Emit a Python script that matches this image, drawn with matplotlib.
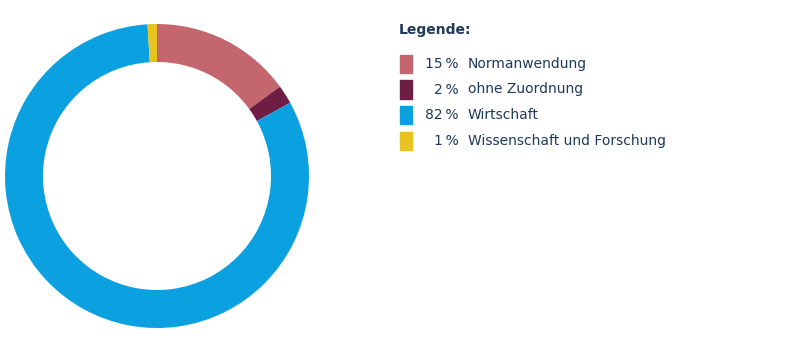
import matplotlib
matplotlib.use("Agg")
import matplotlib.pyplot as plt
from matplotlib.patches import Rectangle

labels = ["Normanwendung", "ohne Zuordnung", "Wirtschaft", "Wissenschaft und Forschung"]
values = [15, 2, 82, 1]
colors = ["#C3666E", "#6E1E45", "#0BA0E0", "#E8C21E"]
text_color = "#1F3A5A"

W, H = 801, 351
fig = plt.figure(figsize=(W / 100, H / 100), dpi=100)

cx, cy, r = 157, 176, 152
ax = fig.add_axes([(cx - r) / W, (H - cy - r) / H, 2 * r / W, 2 * r / H])
ax.pie(values, colors=colors, startangle=90, counterclock=False, radius=1,
       wedgeprops=dict(width=0.25, edgecolor="none"))
ax.set_xlim(-1, 1)
ax.set_ylim(-1, 1)
ax.set_aspect("equal")
ax.axis("off")

font = "DejaVu Sans"
fig.text(399 / W, 1 - 30 / H, "Legende:", fontsize=10, fontweight="bold",
         color=text_color, va="center", ha="left", family=font)

row_y = [64, 89.5, 115, 141]
for y, lab, v, c in zip(row_y, labels, values, colors):
    fig.patches.append(Rectangle((400 / W, 1 - (y + 9) / H), 12 / W, 18 / H,
                                 transform=fig.transFigure, color=c, figure=fig))
    fig.text(459 / W, 1 - y / H, f"{v}\u2009%", fontsize=10, color=text_color,
             va="center", ha="right", family=font)
    fig.text(468 / W, 1 - y / H, lab, fontsize=10, color=text_color,
             va="center", ha="left", family=font)

fig.savefig("out.png", dpi=100)
